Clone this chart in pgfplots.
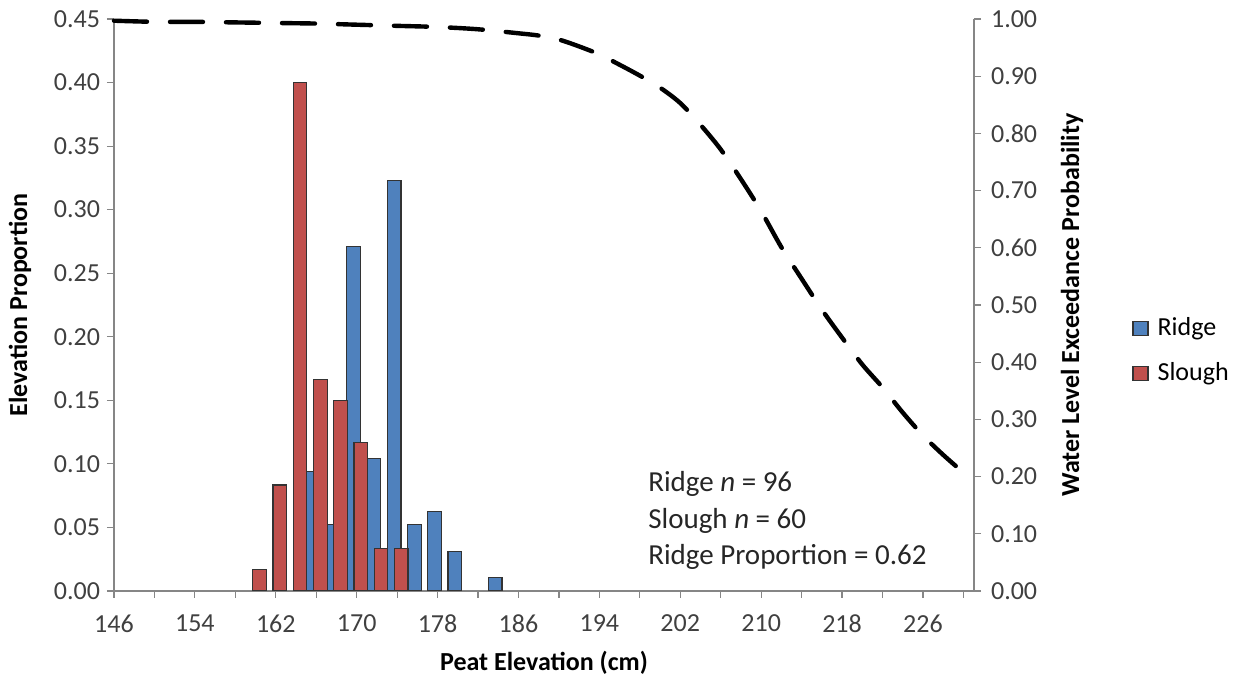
\documentclass[border=0pt]{standalone}
\usepackage{fontspec}
\setmainfont{Carlito}
\usepackage{pgfplots}
\pgfplotsset{compat=1.18}
\definecolor{ridge}{HTML}{4F81BD}
\definecolor{slough}{HTML}{C0504D}
\definecolor{axisgray}{HTML}{868686}
\definecolor{ticktext}{HTML}{404040}
\begin{document}
\begin{tikzpicture}
\pgfplotsset{
  base/.style={
    scale only axis, width=430pt, height=286pt,
    at={(0,0)}, anchor=south west,
    xmin=146, xmax=231.05,
    tick align=outside,
    major tick length=3.5pt, minor tick length=3.5pt,
    every tick/.style={axisgray, line width=0.6pt},
    axis line style={axisgray, line width=0.6pt},
    tick label style={font=\fontsize{13}{15}\selectfont, text=ticktext},
    /pgf/number format/assume math mode=true,
    label style={font=\fontsize{13}{15}\selectfont\bfseries, text=black},
  },
  sq legend/.style={legend image code/.code={\draw[##1, line width=0.6pt] (0pt,-3.5pt) rectangle (7.5pt,3.5pt);}},
}
\begin{axis}[base,
  axis x line*=bottom, axis y line*=left,
  ymin=0, ymax=0.45,
  ytick={0,0.05,0.10,0.15,0.20,0.25,0.30,0.35,0.40,0.45},
  yticklabel style={/pgf/number format/.cd, fixed, fixed zerofill, precision=2},
  xtick={146,154,162,170,178,186,194,202,210,218,226},
  minor xtick={150,158,166,174,182,190,198,206,214,222,230},
  xticklabel style={yshift=-5pt, /pgf/number format/.cd, fixed, precision=0, 1000 sep={}},
  xlabel={Peat Elevation (cm)},
  xlabel style={at={(axis description cs:0.5,-0.1259)}, anchor=center},
  ylabel={Elevation Proportion},
  ylabel style={at={(axis description cs:-0.1093,0.5)}, anchor=center},
  legend style={at={(axis description cs:1.1837,0.420)}, anchor=west, draw=none, fill=none,
    font=\fontsize{13}{15}\selectfont, row sep=8pt, column sep=2.5pt, inner sep=0pt},
  legend cell align=left,
]
\addplot[ybar, bar width=1.35, bar shift=0pt, fill=ridge, draw=black!80, line width=0.6pt, sq legend]
  coordinates {(165.7,0.09375) (167.7,0.05208) (169.7,0.27083) (171.7,0.10417) (173.7,0.32292)
               (175.7,0.05208) (177.7,0.0625) (179.7,0.03125) (183.7,0.01042)};
\addlegendentry{Ridge}
\addplot[ybar, bar width=1.35, bar shift=0pt, fill=slough, draw=black!80, line width=0.6pt, sq legend]
  coordinates {(160.4,0.01667) (162.4,0.08333) (164.4,0.40) (166.4,0.16667) (168.4,0.15)
               (170.4,0.11667) (172.4,0.03333) (174.4,0.03333)};
\addlegendentry{Slough}
\node[anchor=base west, font=\fontsize{14.5}{16}\selectfont, text=black!85, inner sep=0pt] at (axis cs:198.8,0.0781) {Ridge \textit{n} = 96};
\node[anchor=base west, font=\fontsize{14.5}{16}\selectfont, text=black!85, inner sep=0pt] at (axis cs:198.8,0.0493) {Slough \textit{n} = 60};
\node[anchor=base west, font=\fontsize{14.5}{16}\selectfont, text=black!85, inner sep=0pt] at (axis cs:198.8,0.0212) {Ridge Proportion = 0.62};
\end{axis}
\begin{axis}[base,
  axis x line=none, axis y line*=right,
  ymin=0, ymax=1,
  ytick={0,0.1,0.2,0.3,0.4,0.5,0.6,0.7,0.8,0.9,1.0},
  yticklabel style={xshift=1.5pt, /pgf/number format/.cd, fixed, fixed zerofill, precision=2},
  ylabel={Water Level Exceedance Probability},
  ylabel style={at={(axis description cs:1.114,0.5)}, anchor=center},
  clip=false,
]
\addplot[black, line width=2.2pt, dash pattern=on 16.5pt off 11.5pt, line cap=round, smooth]
  coordinates {(146,0.997) (150,0.995) (154,0.995) (158,0.994) (162,0.993) (166,0.992)
   (170,0.990) (174,0.988) (178,0.986) (182,0.982) (186,0.975) (188,0.971) (190,0.964)
   (192,0.952) (194,0.938) (196,0.920) (198,0.901) (200,0.880) (202,0.853) (204,0.815)
   (206,0.772) (208,0.720) (210,0.664) (212,0.601) (214,0.546) (216,0.492) (218,0.443)
   (220,0.396) (222,0.356) (224,0.312) (226,0.272) (228,0.238) (230,0.207)};
\end{axis}
\pgfresetboundingbox
\path (-57pt,-46pt) rectangle (562pt,295.5pt);
\end{tikzpicture}
\end{document}
